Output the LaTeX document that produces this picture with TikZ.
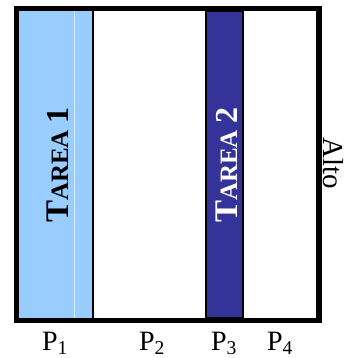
\documentclass[tikz,border=0pt]{standalone}
\usepackage{fontspec}
\setmainfont{Liberation Serif}
\definecolor{celeste}{HTML}{99CCFF}
\definecolor{anil}{HTML}{333399}
\newcommand{\tarea}[1]{\bfseries{\fontsize{33}{33}\selectfont T}{\fontsize{25}{25}\selectfont AREA}\hspace{7pt}{\fontsize{32}{32}\selectfont #1}}
\begin{document}
\begin{tikzpicture}[x=1pt,y=-1pt,
  proc/.style={font=\fontsize{28}{28}\selectfont, anchor=base},
  marco/.style={line width=5.5pt},
  borde/.style={line width=2pt}]
\useasboundingbox (0,0) rectangle (345,358);
%\draw[help lines] (0,0) grid (345,358);

% columnas de las tareas
\fill[celeste] (19,11) rectangle (93,318);
\draw[white!60!celeste, line width=0.7pt] (74,11) -- (74,318);
\draw[borde] (93,11) -- (93,318);
\filldraw[fill=anil, borde] (206,11) rectangle (243,318);

\node[rotate=90, anchor=base, text=black] (t1) at (68,165) {\tarea{1}};
\node[rotate=90, anchor=base, text=white] (t2) at (237,165) {\tarea{2}};

% marco exterior
\draw[marco] (16.5,8.3) rectangle (319,320.5);
\node[rotate=-90, anchor=base, font=\fontsize{29}{29}\selectfont] (alto) at (323,163.5) {Alto};

\node[proc] (p1) at (55,350) {P\textsubscript{1}};
\node[proc] (p2) at (152,350) {P\textsubscript{2}};
\node[proc] (p3) at (224,350) {P\textsubscript{3}};
\node[proc] (p4) at (280,350) {P\textsubscript{4}};
\end{tikzpicture}
\end{document}
